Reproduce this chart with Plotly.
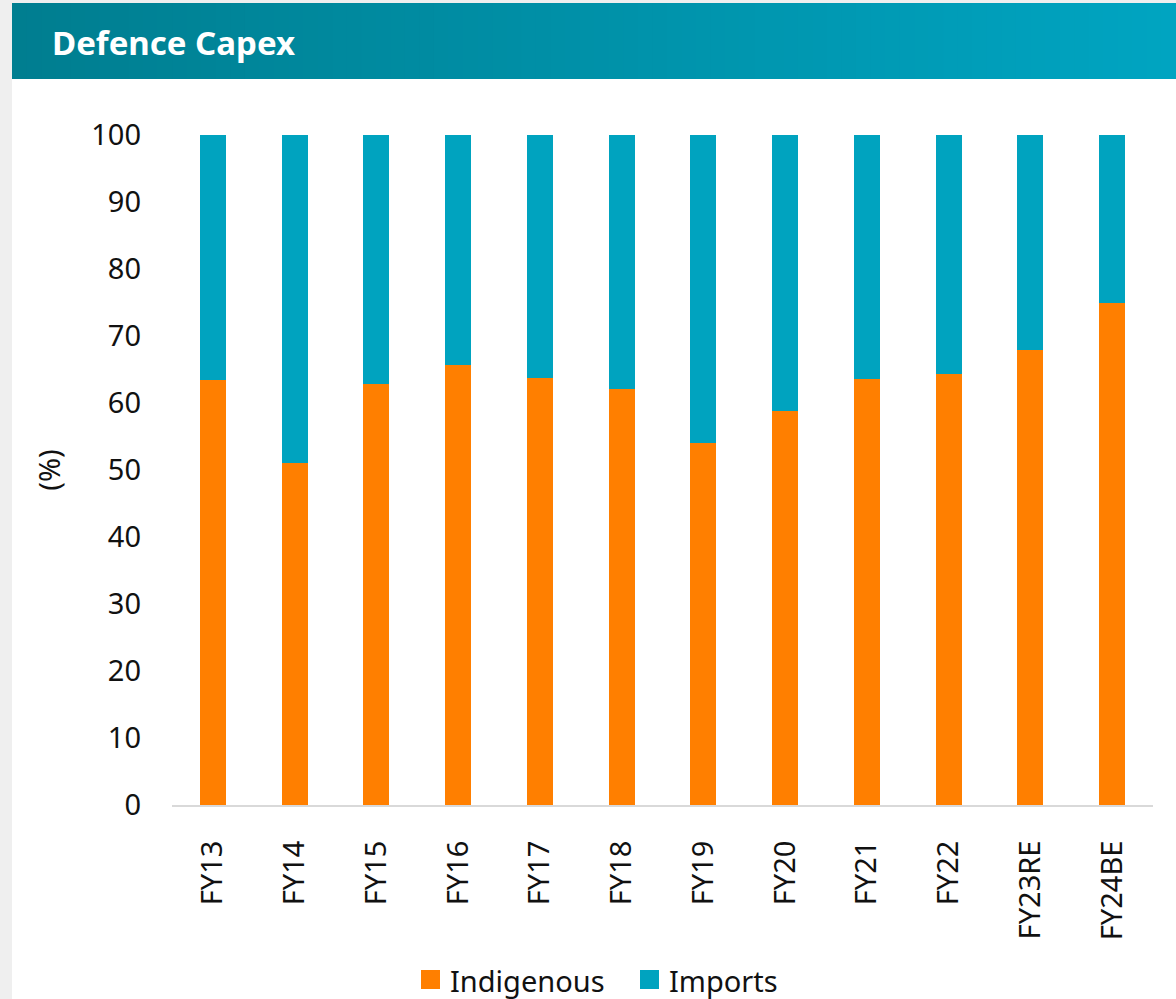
import plotly.graph_objects as go

# Share of defence capital outlay, by source (%)
years = ["FY13", "FY14", "FY15", "FY16", "FY17", "FY18",
         "FY19", "FY20", "FY21", "FY22", "FY23RE", "FY24BE"]
indigenous = [63.4, 51.0, 62.8, 65.6, 63.7, 62.1, 54.0, 58.8, 63.6, 64.3, 67.9, 74.9]
imports = [round(100 - v, 1) for v in indigenous]

series_names = ["Indigenous", "Imports"]
y_ticks = list(range(0, 101, 10))

ORANGE = "#ff7f00"
TEAL = "#00a3bf"
FONT = "Noto Sans"

W, H = 1176, 999
L, R, T, B = 172, 23, 135, 194
PW, PH = W - L - R, H - T - B


def px_x(px):
    return (px - L) / PW


def px_y(py):
    return (H - B - py) / PH


fig = go.Figure()
fig.add_trace(go.Bar(x=years, y=indigenous, name=series_names[0], showlegend=False,
                     marker=dict(color=ORANGE, line=dict(width=0))))
fig.add_trace(go.Bar(x=years, y=imports, name=series_names[1], showlegend=False,
                     marker=dict(color=TEAL, line=dict(width=0))))

shapes = []
# white card behind the chart
shapes.append(dict(type="rect", xref="paper", yref="paper", layer="below",
                   x0=px_x(12), x1=px_x(W + 5), y0=px_y(H + 5), y1=px_y(79),
                   fillcolor="white", line=dict(width=0)))
# header banner with a left-to-right gradient
c0 = (0x00, 0x7e, 0x90)
c1 = (0x00, 0xa4, 0xc1)
n = 80
x_start, x_end = 12, W
step = (x_end - x_start) / n
for i in range(n):
    t = i / (n - 1)
    col = "rgb({},{},{})".format(*[round(a + (b - a) * t) for a, b in zip(c0, c1)])
    shapes.append(dict(type="rect", xref="paper", yref="paper", layer="below",
                       x0=px_x(x_start + i * step), x1=px_x(x_start + (i + 1) * step + 1),
                       y0=px_y(79), y1=px_y(3),
                       fillcolor=col, line=dict(width=0)))

annotations = [dict(text="<b>Defence Capex</b>", xref="paper", yref="paper",
                    x=px_x(50), y=px_y(43), xanchor="left", yanchor="middle",
                    showarrow=False,
                    font=dict(family=FONT, size=33, color="white"))]

# legend: colour swatch followed by series name
legend_items = [(series_names[0], ORANGE, 421), (series_names[1], TEAL, 640)]
for name, col, x0 in legend_items:
    shapes.append(dict(type="rect", xref="paper", yref="paper",
                       x0=px_x(x0), x1=px_x(x0 + 19), y0=px_y(989), y1=px_y(970),
                       fillcolor=col, line=dict(width=0)))
    annotations.append(dict(text=name, xref="paper", yref="paper",
                            x=px_x(x0 + 27), y=px_y(980), xanchor="left", yanchor="middle",
                            showarrow=False,
                            font=dict(family=FONT, size=29, color="#111111")))

fig.update_layout(
    width=W, height=H,
    margin=dict(l=L, r=R, t=T, b=B, autoexpand=False),
    paper_bgcolor="#efefef",
    plot_bgcolor="white",
    barmode="stack",
    bargap=0.682,
    font=dict(family=FONT, color="#111111", size=29),
    shapes=shapes,
    annotations=annotations,
    showlegend=False,
    xaxis=dict(showline=True, linecolor="#d9d9d9", linewidth=2,
               tickangle=-90, ticks="", showgrid=False,
               ticklabelstandoff=22,
               tickfont=dict(size=29)),
    yaxis=dict(range=[0, 100], tickvals=y_ticks, showgrid=False,
               showline=False, zeroline=False, ticks="",
               ticklabelstandoff=30,
               tickfont=dict(size=29),
               title=dict(text="(%)", font=dict(size=29), standoff=22)),
)

fig.write_html("out.html")
